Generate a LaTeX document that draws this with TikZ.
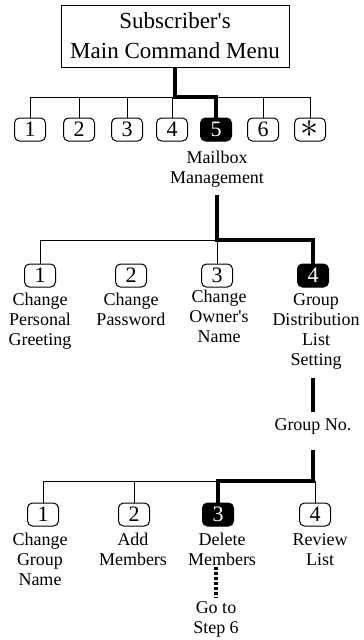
\documentclass[tikz,border=0pt]{standalone}
\usepackage{fontspec}
\usepackage{graphicx}
\setmainfont{Liberation Serif}
\begin{document}
\begin{tikzpicture}[x=1pt,y=-1pt,
  key/.style={draw, rounded corners=5pt, minimum width=31pt, minimum height=23pt, inner sep=0pt, line width=1pt, font=\fontsize{22}{24}\selectfont},
  keyon/.style={key, fill=black, text=white},
  lbl/.style={align=center, inner sep=0pt, anchor=north, font=\fontsize{18}{20}\selectfont},
  thinl/.style={line width=1pt},
  thickl/.style={line width=4.5pt},
  dotl/.style={line width=4pt, dash pattern=on 3pt off 2pt}]
\useasboundingbox (0,0) rectangle (364,640);

% title
\node[draw, line width=1pt, minimum width=228pt, minimum height=62pt, inner sep=0pt, align=center,
      font=\fontsize{23}{30}\selectfont] (title) at (175,36) {Subscriber\textquotesingle s\\Main Command Menu};

% row 1
\node[key]   (a1) at (30,129.5) {1};
\node[key]   (a2) at (79,129.5) {2};
\node[key]   (a3) at (127,129.5) {3};
\node[key]   (a4) at (172,129.5) {4};
\node[keyon] (a5) at (216,129.5) {5};
\node[key]   (a6) at (263,129.5) {6};
\node[key]   (a7) at (310,129.5) {\scalebox{1.75}{$\ast$}};
\node[lbl]   (mb) at (217,151) {Mailbox\\Management};

\coordinate (j1) at (0,97);
\draw[thinl] (a1.north) -- (a1.north |- j1) -- (a7.north |- j1) -- (a7.north);
\foreach \n in {a2,a3,a4,a6} \draw[thinl] (\n.north) -- (\n.north |- j1);
\draw[thickl] (title.south) -- (title.south |- j1) -| (a5.north);

% row 2
\node[key]   (b1) at (40,275.5) {1};
\node[key]   (b2) at (131,275.5) {2};
\node[key]   (b3) at (217,275.5) {3};
\node[keyon] (b4) at (313,275.5) {4};
\node[lbl] (l21) at (40,293) {Change\\Personal\\Greeting};
\node[lbl] (l22) at (131,293) {Change\\Password};
\node[lbl] (l23) at (219,290) {Change\\Owner\textquotesingle s\\Name};
\node[lbl] (l24) at (316,293) {Group\\Distribution\\List\\Setting};

\coordinate (j2) at (0,240);
\coordinate (s2) at (217,195);
\draw[thinl] (b1.north) -- (b1.north |- j2) -- (b3.north |- j2) -- (b3.north);
\draw[thickl] (s2) -- (s2 |- j2) -| (b4.north);

% group no
\node[lbl] (gno) at (313,418) {Group No.};
\coordinate (s3) at (313,378);
\draw[thickl] (s3) -- ([yshift=6pt]gno.north -| s3);

% row 3
\node[key]   (c1) at (43,514.5) {1};
\node[key]   (c2) at (134,514.5) {2};
\node[keyon] (c3) at (218,514.5) {3};
\node[key]   (c4) at (315,514.5) {4};
\node[lbl] (l31) at (40,533) {Change\\Group\\Name};
\node[lbl] (l32) at (133,533) {Add\\Members};
\node[lbl] (l33) at (222,533) {Delete\\Members};
\node[lbl] (l34) at (320,533) {Review\\List};
\node[lbl] (go) at (216,601) {Go to\\Step 6};

\coordinate (j3) at (0,481);
\coordinate (s4) at (313,450);
\draw[thinl] (c1.north) -- (c1.north |- j3) -- (c3.north |- j3);
\draw[thinl] (c2.north) -- (c2.north |- j3);
\draw[thinl] (c4.north) -- (c4.north |- j3);
\draw[thickl] (s4) -- (s4 |- j3) -| (c3.north);
\draw[dotl] ([yshift=-1pt]go.north |- l33.south) -- ([yshift=3pt]go.north);
\end{tikzpicture}
\end{document}
